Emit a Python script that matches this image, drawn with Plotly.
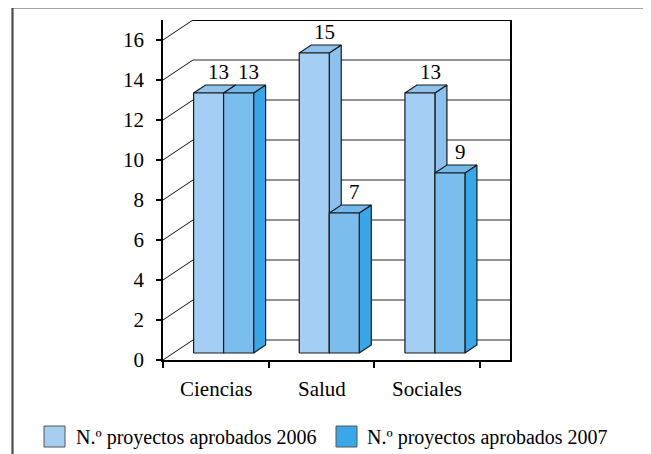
import plotly.graph_objects as go

# ---------------- data ----------------
categories = ["Ciencias", "Salud", "Sociales"]
series_names = ["N.º proyectos aprobados 2006", "N.º proyectos aprobados 2007"]
values_2006 = [13, 15, 13]
values_2007 = [13, 7, 9]
y_ticks = [0, 2, 4, 6, 8, 10, 12, 14, 16]

# ---------------- style / geometry ----------------
FONT = "Liberation Serif"
FS = 21
FS_LEG = 20
OFFSET = 8                              # page body margin of the viewer
W, H = 651 - OFFSET, 454 - OFFSET
L, T = 163 - OFFSET, 20 - OFFSET
PW, PH = 347, 340                       # plot area in px
R, B = W - L - PW, H - T - PH
XMAX = 3.284                            # category units shown
YMAX = 17.0                             # value units shown
DX, DY = 0.284, 1.0                     # oblique depth offset (full depth)
Z0, DZ = 0.35, 0.40                     # bar depth position / thickness
OFF, BW = 0.19, 0.284                   # bar offset in category / bar width

face_cols = [
    dict(front="#A4CEF3", top="#8FC3EE", side="#8CC1EE", legend="#A6CEF2"),
    dict(front="#7BBDEC", top="#73B8EA", side="#39A6E8", legend="#3AA8E8"),
]

def P(x, y, z):
    return x + z * DX, y + z * DY

# reference-picture pixel -> paper coordinates
def px2paper_x(px):
    return (px - OFFSET - L) / PW

def px2paper_y(py):
    return (T + PH - (py - OFFSET)) / PH

fig = go.Figure()

series = [values_2006, values_2007]
for ci, cat in enumerate(categories):
    for si, vals in enumerate(series):
        v = vals[ci]
        x0 = ci + OFF + si * BW
        x1 = x0 + BW
        z1 = Z0 + DZ
        faces = {
            "front": [P(x0, 0, Z0), P(x1, 0, Z0), P(x1, v, Z0), P(x0, v, Z0)],
            "top": [P(x0, v, Z0), P(x1, v, Z0), P(x1, v, z1), P(x0, v, z1)],
            "side": [P(x1, 0, Z0), P(x1, 0, z1), P(x1, v, z1), P(x1, v, Z0)],
        }
        for fname in ["side", "top", "front"]:
            pts = faces[fname] + [faces[fname][0]]
            fig.add_trace(go.Scatter(
                x=[p[0] for p in pts], y=[p[1] for p in pts],
                mode="lines", fill="toself",
                fillcolor=face_cols[si][fname],
                line=dict(color="#1a1a1a", width=1.2),
                hoverinfo="skip", showlegend=False,
            ))
        lx, ly = P(x0 + BW / 2, v, Z0 + DZ * 0.85)
        fig.add_annotation(x=lx, y=v + (Z0 + DZ) * DY, text=str(v),
                           showarrow=False, yanchor="bottom", yshift=-1,
                           font=dict(family=FONT, size=FS, color="black"))

shapes = []
# back wall gridlines and left-wall diagonals
for t in y_ticks:
    if t < y_ticks[-1]:
        shapes.append(dict(type="line", xref="x", yref="y", x0=DX, x1=XMAX,
                           y0=t + DY, y1=t + DY, layer="below",
                           line=dict(color="#6f6f6f", width=1.4)))
    shapes.append(dict(type="line", xref="x", yref="y", x0=0, x1=DX,
                       y0=t, y1=t + DY, layer="below",
                       line=dict(color="#111111", width=1)))
# top edge of back wall
shapes.append(dict(type="line", xref="x", yref="y", x0=DX, x1=XMAX,
                   y0=YMAX, y1=YMAX, line=dict(color="black", width=2.2)))
# outer frame (top and left)
shapes.append(dict(type="line", xref="paper", yref="paper",
                   x0=px2paper_x(12), x1=px2paper_x(660),
                   y0=px2paper_y(7.5), y1=px2paper_y(7.5),
                   line=dict(color="#4d4d4d", width=2.2)))
shapes.append(dict(type="line", xref="paper", yref="paper",
                   x0=px2paper_x(12.5), x1=px2paper_x(12.5),
                   y0=px2paper_y(7), y1=px2paper_y(470),
                   line=dict(color="#4d4d4d", width=2.2)))

# manual legend
leg_items = [(44, 74), (336, 365)]
for (sx, tx), name, cols in zip(leg_items, series_names, face_cols):
    shapes.append(dict(type="rect", xref="paper", yref="paper",
                       x0=px2paper_x(sx), x1=px2paper_x(sx + 21),
                       y0=px2paper_y(447), y1=px2paper_y(426),
                       fillcolor=cols["legend"],
                       line=dict(color="#555555", width=1)))
    fig.add_annotation(xref="paper", yref="paper", x=px2paper_x(tx),
                       y=px2paper_y(437), text=name, showarrow=False,
                       xanchor="left", yanchor="middle",
                       font=dict(family=FONT, size=FS_LEG, color="black"))

# category labels at front category centres
for ci, cat in enumerate(categories):
    fig.add_annotation(xref="x", yref="paper", x=ci + 0.5, y=px2paper_y(389),
                       text=cat, showarrow=False, yanchor="middle",
                       font=dict(family=FONT, size=FS, color="black"))

fig.update_layout(
    width=W, height=H,
    margin=dict(l=L, r=R, t=T, b=B),
    paper_bgcolor="white", plot_bgcolor="white",
    shapes=shapes, showlegend=False,
    font=dict(family=FONT, size=FS, color="black"),
    xaxis=dict(range=[0, XMAX], tickvals=[0, 1, 2, 3], ticktext=["", "", "", ""],
               ticks="outside", ticklen=6, tickwidth=2, tickcolor="black",
               showline=True, linecolor="black", linewidth=1.5,
               showgrid=False, zeroline=False, fixedrange=True),
    yaxis=dict(range=[0, YMAX], tickvals=y_ticks,
               ticktext=[str(t) for t in y_ticks],
               ticks="outside", ticklen=5, tickwidth=2, tickcolor="black",
               ticklabelstandoff=8,
               showline=True, mirror=True, linecolor="black", linewidth=1.5,
               showgrid=False, zeroline=False, fixedrange=True,
               tickfont=dict(family=FONT, size=FS, color="black")),
)

fig.write_html("out.html")
